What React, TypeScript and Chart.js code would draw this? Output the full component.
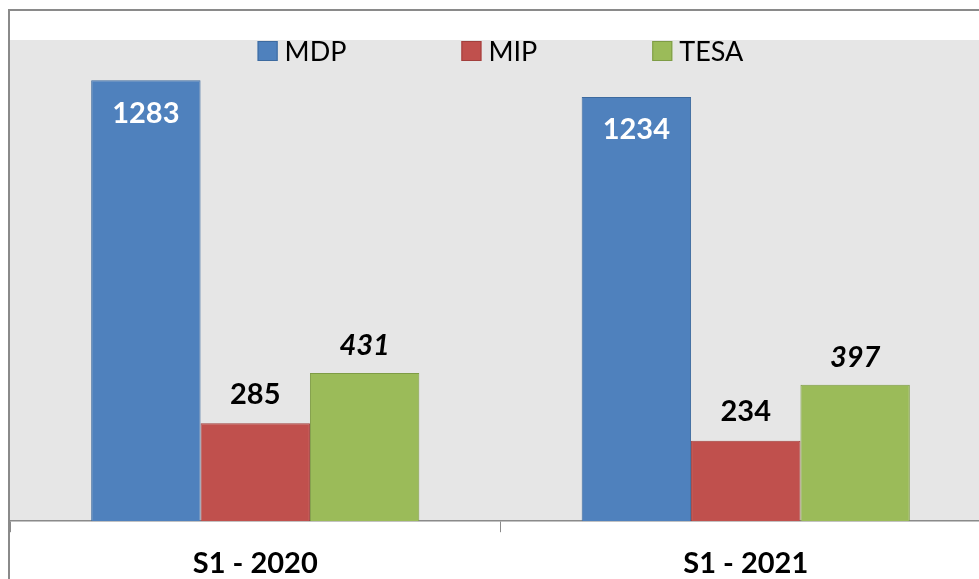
import React, { useEffect, useRef } from "react";
import { Chart, registerables } from "chart.js";

Chart.register(...registerables);

const categories = ["S1 - 2020", "S1 - 2021"];
const seriesNames = ["MDP", "MIP", "TESA"];
const mdpValues = [1283, 1234];
const mipValues = [285, 234];
const tesaValues = [431, 397];

const FONT = "Lato, 'Open Sans', sans-serif";

const bgPlugin = {
  id: "plotBg",
  beforeDraw(chart: any) {
    const { ctx, chartArea } = chart;
    ctx.save();
    ctx.fillStyle = "#e6e6e6";
    ctx.fillRect(chartArea.left, chartArea.top, chartArea.right - chartArea.left, chartArea.bottom - chartArea.top);
    ctx.restore();
  },
};

const legendPlugin = {
  id: "innerLegend",
  afterDraw(chart: any) {
    const { ctx, chartArea } = chart;
    const box = 20;
    const textGap = 7;
    const itemGap = 115;
    ctx.save();
    ctx.font = `27px ${FONT}`;
    const items = chart.data.datasets.map((ds: any) => ({
      ds,
      w: box + textGap + ctx.measureText(ds.label).width,
    }));
    const total = items.reduce((s: number, it: any) => s + it.w, 0) + itemGap * (items.length - 1);
    let x = (chartArea.left + chartArea.right) / 2 - total / 2;
    const top = chartArea.top + 1;
    items.forEach((it: any) => {
      ctx.fillStyle = it.ds.backgroundColor;
      ctx.fillRect(x, top, box, box);
      ctx.strokeStyle = it.ds.borderColor;
      ctx.lineWidth = 1;
      ctx.strokeRect(x + 0.5, top + 0.5, box - 1, box - 1);
      ctx.fillStyle = "#000000";
      ctx.textAlign = "left";
      ctx.textBaseline = "middle";
      ctx.fillText(it.ds.label, x + box + textGap, top + box / 2 + 1);
      x += it.w + itemGap;
    });
    ctx.restore();
  },
};

const labelPlugin = {
  id: "valueLabels",
  afterDatasetsDraw(chart: any) {
    const { ctx } = chart;
    ctx.save();
    ctx.textAlign = "center";
    ctx.textBaseline = "middle";
    chart.data.datasets.forEach((ds: any, i: number) => {
      const meta = chart.getDatasetMeta(i);
      meta.data.forEach((el: any, j: number) => {
        const v = ds.data[j];
        if (i === 0) {
          ctx.fillStyle = "#ffffff";
          ctx.font = `bold 29px ${FONT}`;
          ctx.fillText(String(v), el.x, el.y + 33);
        } else if (i === 1) {
          ctx.fillStyle = "#000000";
          ctx.font = `bold 29px ${FONT}`;
          ctx.fillText(String(v), el.x, el.y - 29);
        } else {
          ctx.fillStyle = "#000000";
          ctx.font = `italic bold 29px ${FONT}`;
          ctx.fillText(String(v), el.x, el.y - 27);
        }
      });
    });
    ctx.restore();
  },
};

export default function App() {
  const ref = useRef<HTMLCanvasElement>(null);
  useEffect(() => {
    if (!ref.current) return;
    const chart = new Chart(ref.current, {
      type: "bar",
      data: {
        labels: categories,
        datasets: [
          { label: seriesNames[0], data: mdpValues, backgroundColor: "#4f81bd", borderColor: "#3d6a9f", borderWidth: 1 },
          { label: seriesNames[1], data: mipValues, backgroundColor: "#c0504d", borderColor: "#a23f3c", borderWidth: 1 },
          { label: seriesNames[2], data: tesaValues, backgroundColor: "#9bbb59", borderColor: "#7e9c45", borderWidth: 1 },
        ],
      },
      options: {
        animation: false,
        responsive: false,
        maintainAspectRatio: false,
        layout: { padding: { left: 10, right: 9, top: 40, bottom: 0 } },
        datasets: { bar: { categoryPercentage: 0.669, barPercentage: 1 } },
        plugins: {
          legend: { display: false },
          tooltip: { enabled: false },
        },
        scales: {
          x: {
            grid: {
              display: true,
              drawOnChartArea: false,
              drawTicks: true,
              tickLength: 11,
              color: "#8a8a8a",
              offset: true,
            },
            border: { display: true, color: "#8a8a8a", width: 1.5 },
            ticks: {
              color: "#000000",
              padding: 14,
              font: { family: FONT, size: 29, weight: "bold" },
            },
          },
          y: {
            display: false,
            min: 0,
            max: 1400,
          },
        },
      },
      plugins: [bgPlugin, labelPlugin, legendPlugin],
    });
    return () => chart.destroy();
  }, []);

  return (
    <div style={{ position: "fixed", left: 0, top: 0, width: 979, height: 579, overflow: "hidden", background: "#ffffff" }}>
      <canvas ref={ref} width={1000} height={595} style={{ position: "absolute", left: 0, top: 0, width: 1000, height: 595 }} />
      <div
        style={{
          position: "absolute",
          left: 8,
          top: 9,
          width: 2000,
          height: 2000,
          border: "2px solid #8a8a8a",
          pointerEvents: "none",
        }}
      />
    </div>
  );
}
